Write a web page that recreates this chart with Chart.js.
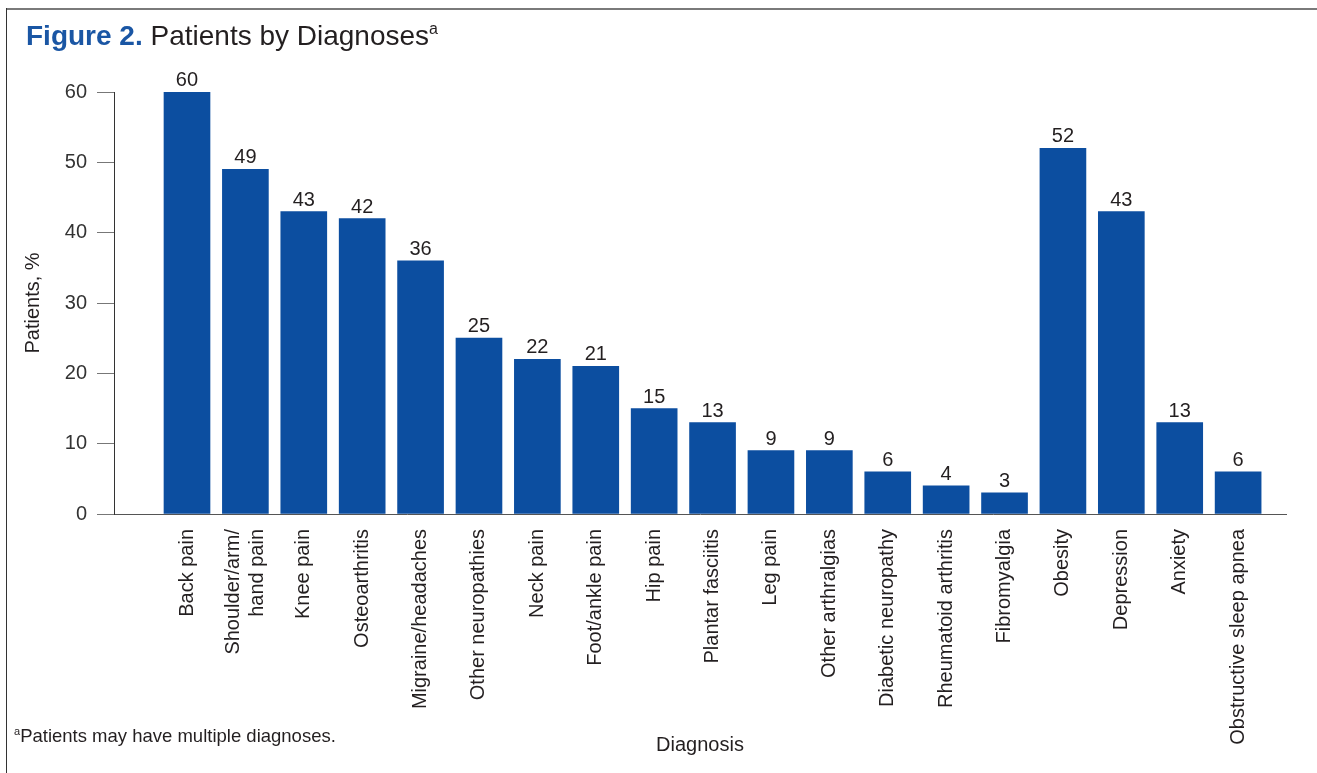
<!DOCTYPE html>
<html>
<head>
<meta charset="utf-8">
<script src="https://cdn.jsdelivr.net/npm/chart.js@4/dist/chart.umd.min.js"></script>
<style>
  html, body { margin: 0; padding: 0; background: #fff; }
  #wrap { position: relative; width: 1317px; height: 773px; overflow: hidden; background: #fff; }
  #c { position: absolute; left: 0; top: 0; }
  .frameTop { position: absolute; left: 6px; top: 8px; width: 1311px; height: 0; border-top: 2px solid #7a7a7a; }
  .frameLeft { position: absolute; left: 6px; top: 8px; width: 0; height: 765px; border-left: 1px solid #333; }
  #title { position: absolute; left: 26px; top: 22px; font-family: "Liberation Sans", Arial, sans-serif; font-size: 28px; line-height: 28px; color: #231f20; white-space: nowrap; }
  #title b { color: #1a56a4; }
  #title sup { font-size: 16px; vertical-align: 0; position: relative; top: -11px; }
  #foot { position: absolute; left: 14px; top: 727px; font-family: "Liberation Sans", Arial, sans-serif; font-size: 18.5px; line-height: 18.5px; color: #231f20; white-space: nowrap; }
  #foot sup { font-size: 11px; vertical-align: 0; position: relative; top: -7px; }
</style>
</head>
<body>
<div id="wrap">
  <canvas id="c" width="1317" height="773"></canvas>
  <div class="frameTop"></div>
  <div class="frameLeft"></div>
  <div id="title"><b>Figure 2.</b> Patients by Diagnoses<sup>a</sup></div>
  <div id="foot"><sup>a</sup>Patients may have multiple diagnoses.</div>
</div>
<script>
const categories = [
  "Back pain",
  ["Shoulder/arm/", "hand pain"],
  "Knee pain",
  "Osteoarthritis",
  "Migraine/headaches",
  "Other neuropathies",
  "Neck pain",
  "Foot/ankle pain",
  "Hip pain",
  "Plantar fasciitis",
  "Leg pain",
  "Other arthralgias",
  "Diabetic neuropathy",
  "Rheumatoid arthritis",
  "Fibromyalgia",
  "Obesity",
  "Depression",
  "Anxiety",
  "Obstructive sleep apnea"
];
const patientsPct = [60, 49, 43, 42, 36, 25, 22, 21, 15, 13, 9, 9, 6, 4, 3, 52, 43, 13, 6];
const yTicks = [0, 10, 20, 30, 40, 50, 60];
const yAxisTitle = "Patients, %";
const xAxisTitle = "Diagnosis";

const FONT = '"Liberation Sans", Arial, sans-serif';
const TEXT = '#231f20';

const valueLabels = {
  id: 'valueLabels',
  afterDatasetsDraw(chart) {
    const ctx = chart.ctx;
    const meta = chart.getDatasetMeta(0);
    ctx.save();
    ctx.font = '20px ' + FONT;
    ctx.fillStyle = TEXT;
    ctx.textAlign = 'center';
    ctx.textBaseline = 'alphabetic';
    meta.data.forEach((bar, i) => {
      ctx.fillText(String(patientsPct[i]), bar.x, bar.y - 6);
    });
    ctx.restore();
  }
};

// shift multi-line labels so that their lines are centred on the bar (half a line = 12px ≈ 0.205 units)
const lineShift = 0.205;

new Chart(document.getElementById('c'), {
  type: 'bar',
  data: {
    datasets: [{
      data: patientsPct.map((v, i) => ({ x: i, y: v })),
      backgroundColor: '#0c4ea0',
      borderWidth: 0,
      barThickness: 46
    }]
  },
  options: {
    responsive: false,
    animation: false,
    devicePixelRatio: 1,
    layout: { padding: { top: 92, right: 31, bottom: 0, left: 0 } },
    plugins: { legend: { display: false }, tooltip: { enabled: false } },
    scales: {
      x: {
        type: 'linear',
        offset: false,
        min: -1.25,
        max: 18.82,
        afterBuildTicks(scale) {
          scale.ticks = categories.map((c, i) => ({
            value: Array.isArray(c) ? i - (c.length - 1) * lineShift : i
          }));
        },
        afterFit(scale) { scale.height = 259; },
        grid: { display: false, offset: false },
        border: { display: true, color: '#555', width: 1 },
        ticks: {
          autoSkip: false,
          minRotation: 90,
          maxRotation: 90,
          padding: 7,
          color: TEXT,
          font: { family: FONT, size: 20, lineHeight: 1.2 },
          callback: (v, idx) => categories[idx]
        },
        title: {
          display: true,
          text: xAxisTitle,
          color: TEXT,
          font: { family: FONT, size: 20, lineHeight: 1.2 },
          padding: { top: 0, bottom: 16 }
        }
      },
      y: {
        min: 0,
        max: 60,
        afterBuildTicks(scale) { scale.ticks = yTicks.map(v => ({ value: v })); },
        afterFit(scale) { scale.width = 114; },
        grid: { drawOnChartArea: false, drawTicks: true, tickLength: 17, color: '#777', lineWidth: 1 },
        border: { display: true, color: '#333', width: 1 },
        ticks: {
          padding: 10,
          color: '#333',
          font: { family: FONT, size: 20 }
        },
        title: {
          display: true,
          text: yAxisTitle,
          color: TEXT,
          font: { family: FONT, size: 20, lineHeight: 1.2 },
          padding: { top: 21, bottom: 0 }
        }
      }
    }
  },
  plugins: [valueLabels]
});
</script>
</body>
</html>
